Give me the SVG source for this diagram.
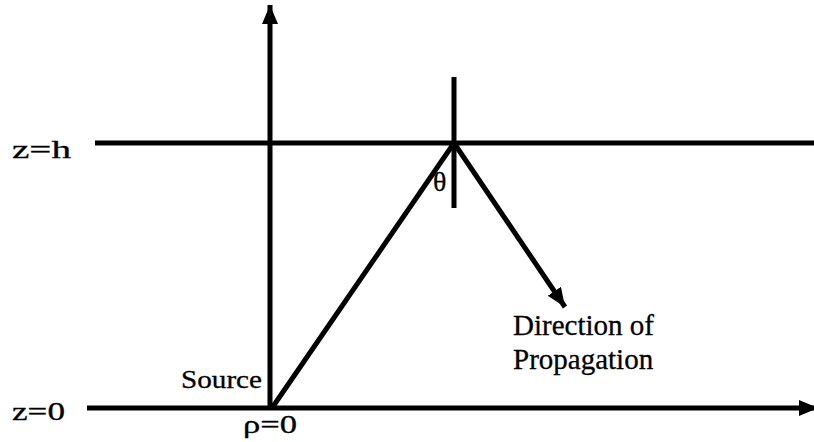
<svg xmlns="http://www.w3.org/2000/svg" width="814" height="442" viewBox="0 0 814 442">
<style>
.ln{stroke:#000;stroke-width:5;fill:none;stroke-linecap:butt}
.t{font-family:"Liberation Serif","Times New Roman",serif;fill:#000;stroke:#000;stroke-width:0.3}
</style>
<defs>
<marker id="ah" markerUnits="userSpaceOnUse" markerWidth="22" markerHeight="18" refX="19" refY="8" orient="auto">
<path d="M0,0 L19,8 L0,16 Z" fill="#000"/>
</marker>
</defs>
<rect width="814" height="442" fill="#fff"/>
<g id="connectors">
<line class="ln" x1="270" y1="410" x2="270" y2="5" marker-end="url(#ah)"/>
<line class="ln" x1="87" y1="408" x2="818" y2="408" marker-end="url(#ah)"/>
<line class="ln" x1="95" y1="143" x2="814" y2="143"/>
<line class="ln" x1="454" y1="77" x2="454" y2="208"/>
<line class="ln" x1="272" y1="408" x2="454" y2="143"/>
<line class="ln" x1="454" y1="143" x2="565" y2="307" marker-end="url(#ah)"/>
</g>
<g id="label-zh"><text class="t" x="12" y="158" font-size="25" textLength="59" lengthAdjust="spacingAndGlyphs">z=h</text></g>
<g id="label-z0"><text class="t" x="12" y="420" font-size="25" textLength="53" lengthAdjust="spacingAndGlyphs">z=0</text></g>
<g id="label-source"><text class="t" x="181" y="388" font-size="25" textLength="81" lengthAdjust="spacingAndGlyphs">Source</text></g>
<g id="label-rho"><text class="t" x="243" y="433" font-size="25" textLength="54" lengthAdjust="spacingAndGlyphs">ρ=0</text></g>
<g id="label-theta"><text class="t" x="433" y="191" font-size="28">θ</text></g>
<g id="label-direction">
<text class="t" x="513" y="335" font-size="29">Direction of</text>
<text class="t" x="513" y="369" font-size="29">Propagation</text>
</g>
</svg>
